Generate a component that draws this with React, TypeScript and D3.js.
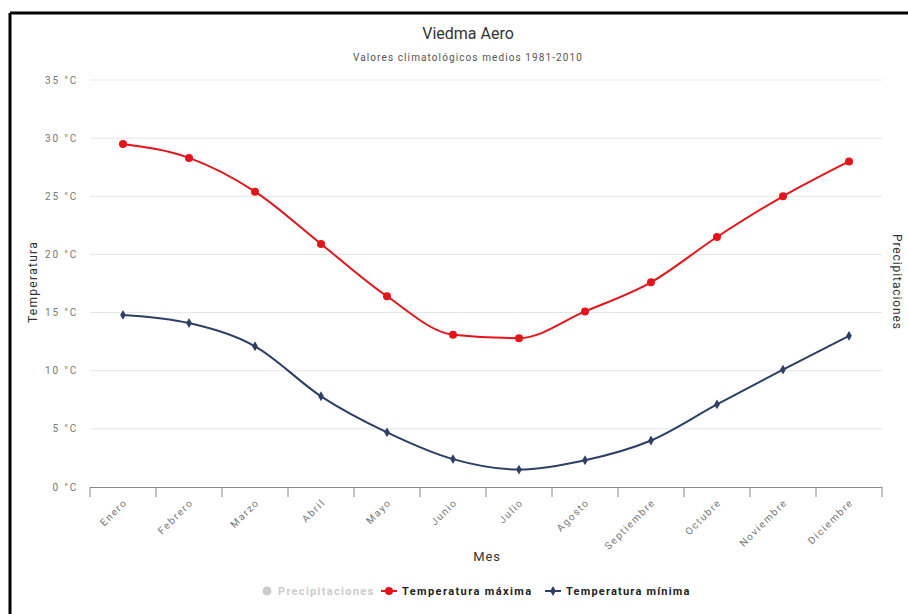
import React from "react";
import * as d3 from "d3";

const months = ["Enero","Febrero","Marzo","Abril","Mayo","Junio","Julio","Agosto","Septiembre","Octubre","Noviembre","Diciembre"];
const tempMax = [29.5, 28.3, 25.4, 20.9, 16.4, 13.1, 12.8, 15.1, 17.6, 21.5, 25.0, 28.0];
const tempMin = [14.8, 14.1, 12.1, 7.8, 4.7, 2.4, 1.5, 2.3, 4.0, 7.1, 10.1, 13.0];
const yTicks = [0, 5, 10, 15, 20, 25, 30, 35];

const W = 908, H = 614;
const FONT = "Roboto, 'Open Sans', sans-serif";
const RED = "#e5141b";
const BLUE = "#2d3f66";

export default function App() {
  const x = d3.scaleBand<string>().domain(months).range([90, 882]);
  const y = d3.scaleLinear().domain([0, 35]).range([487, 80]);
  const cx = (m: string) => (x(m) as number) + x.bandwidth() / 2;
  const line = d3.line<number>().x((_, i) => cx(months[i])).y(d => y(d)).curve(d3.curveMonotoneX);
  const diamond = d3.symbol().type(d3.symbolDiamond).size(28)() as string;
  const tickXs = months.map(m => x(m) as number).concat([882]);

  return (
    <svg width={W} height={H} style={{ position: "absolute", left: 0, top: 0, background: "#fff" }} fontFamily={FONT}>
      <rect x={0} y={0} width={W} height={H} fill="#fff" />
      {/* frame */}
      <line x1={10} y1={13} x2={908} y2={13} stroke="#000" strokeWidth={3} />
      <line x1={10} y1={13} x2={10} y2={614} stroke="#000" strokeWidth={3} />

      <text x={468} y={39} textAnchor="middle" fontSize={16} fill="#333">Viedma Aero</text>
      <text x={468} y={61} textAnchor="middle" fontSize={10} letterSpacing={1.1} fill="#555">Valores climatológicos medios 1981-2010</text>

      {/* grid */}
      {yTicks.map(t => (
        <g key={t}>
          {t > 0 && <line x1={90} x2={882} y1={y(t)} y2={y(t)} stroke="#e6e6e6" strokeWidth={1} />}
          <text x={78} y={y(t) + 3.5} textAnchor="end" fontSize={10} letterSpacing={1.8} fill="#777">{t} °C</text>
        </g>
      ))}
      {/* x axis */}
      <line x1={90} x2={882} y1={487.5} y2={487.5} stroke="#888" strokeWidth={1} />
      {tickXs.map((tx, i) => (
        <line key={i} x1={tx} x2={tx} y1={487} y2={497} stroke="#888" strokeWidth={1} />
      ))}
      {months.map(m => (
        <text key={m} transform={`translate(${cx(m) + 5},${503}) rotate(-45)`} textAnchor="end" fontSize={10} letterSpacing={1.6} fill="#777">{m}</text>
      ))}

      <text transform={`translate(37,282) rotate(-90)`} textAnchor="middle" fontSize={12} letterSpacing={1.3} fill="#333">Temperatura</text>
      <text transform={`translate(893,282) rotate(90)`} textAnchor="middle" fontSize={12} letterSpacing={0.9} fill="#333">Precipitaciones</text>
      <text x={487} y={561} textAnchor="middle" fontSize={13} letterSpacing={0.8} fill="#333">Mes</text>

      {/* series */}
      <path d={line(tempMax) as string} fill="none" stroke={RED} strokeWidth={2} />
      {tempMax.map((v, i) => (
        <circle key={i} cx={cx(months[i])} cy={y(v)} r={4} fill={RED} />
      ))}
      <path d={line(tempMin) as string} fill="none" stroke={BLUE} strokeWidth={2} />
      {tempMin.map((v, i) => (
        <path key={i} d={diamond} transform={`translate(${cx(months[i])},${y(v)})`} fill={BLUE} />
      ))}

      {/* legend */}
      <circle cx={267} cy={591} r={4.5} fill="#cccccc" />
      <text x={278} y={595} fontSize={11} fontWeight="bold" letterSpacing={1.3} fill="#cccccc">Precipitaciones</text>
      <line x1={381} x2={397} y1={591} y2={591} stroke={RED} strokeWidth={2} />
      <circle cx={389} cy={591} r={4} fill={RED} />
      <text x={402} y={595} fontSize={11} fontWeight="bold" letterSpacing={1.4} fill="#222">Temperatura máxima</text>
      <line x1={545} x2={561} y1={591} y2={591} stroke={BLUE} strokeWidth={2} />
      <path d={diamond} transform="translate(553,591)" fill={BLUE} />
      <text x={566} y={595} fontSize={11} fontWeight="bold" letterSpacing={1.2} fill="#222">Temperatura mínima</text>
    </svg>
  );
}
